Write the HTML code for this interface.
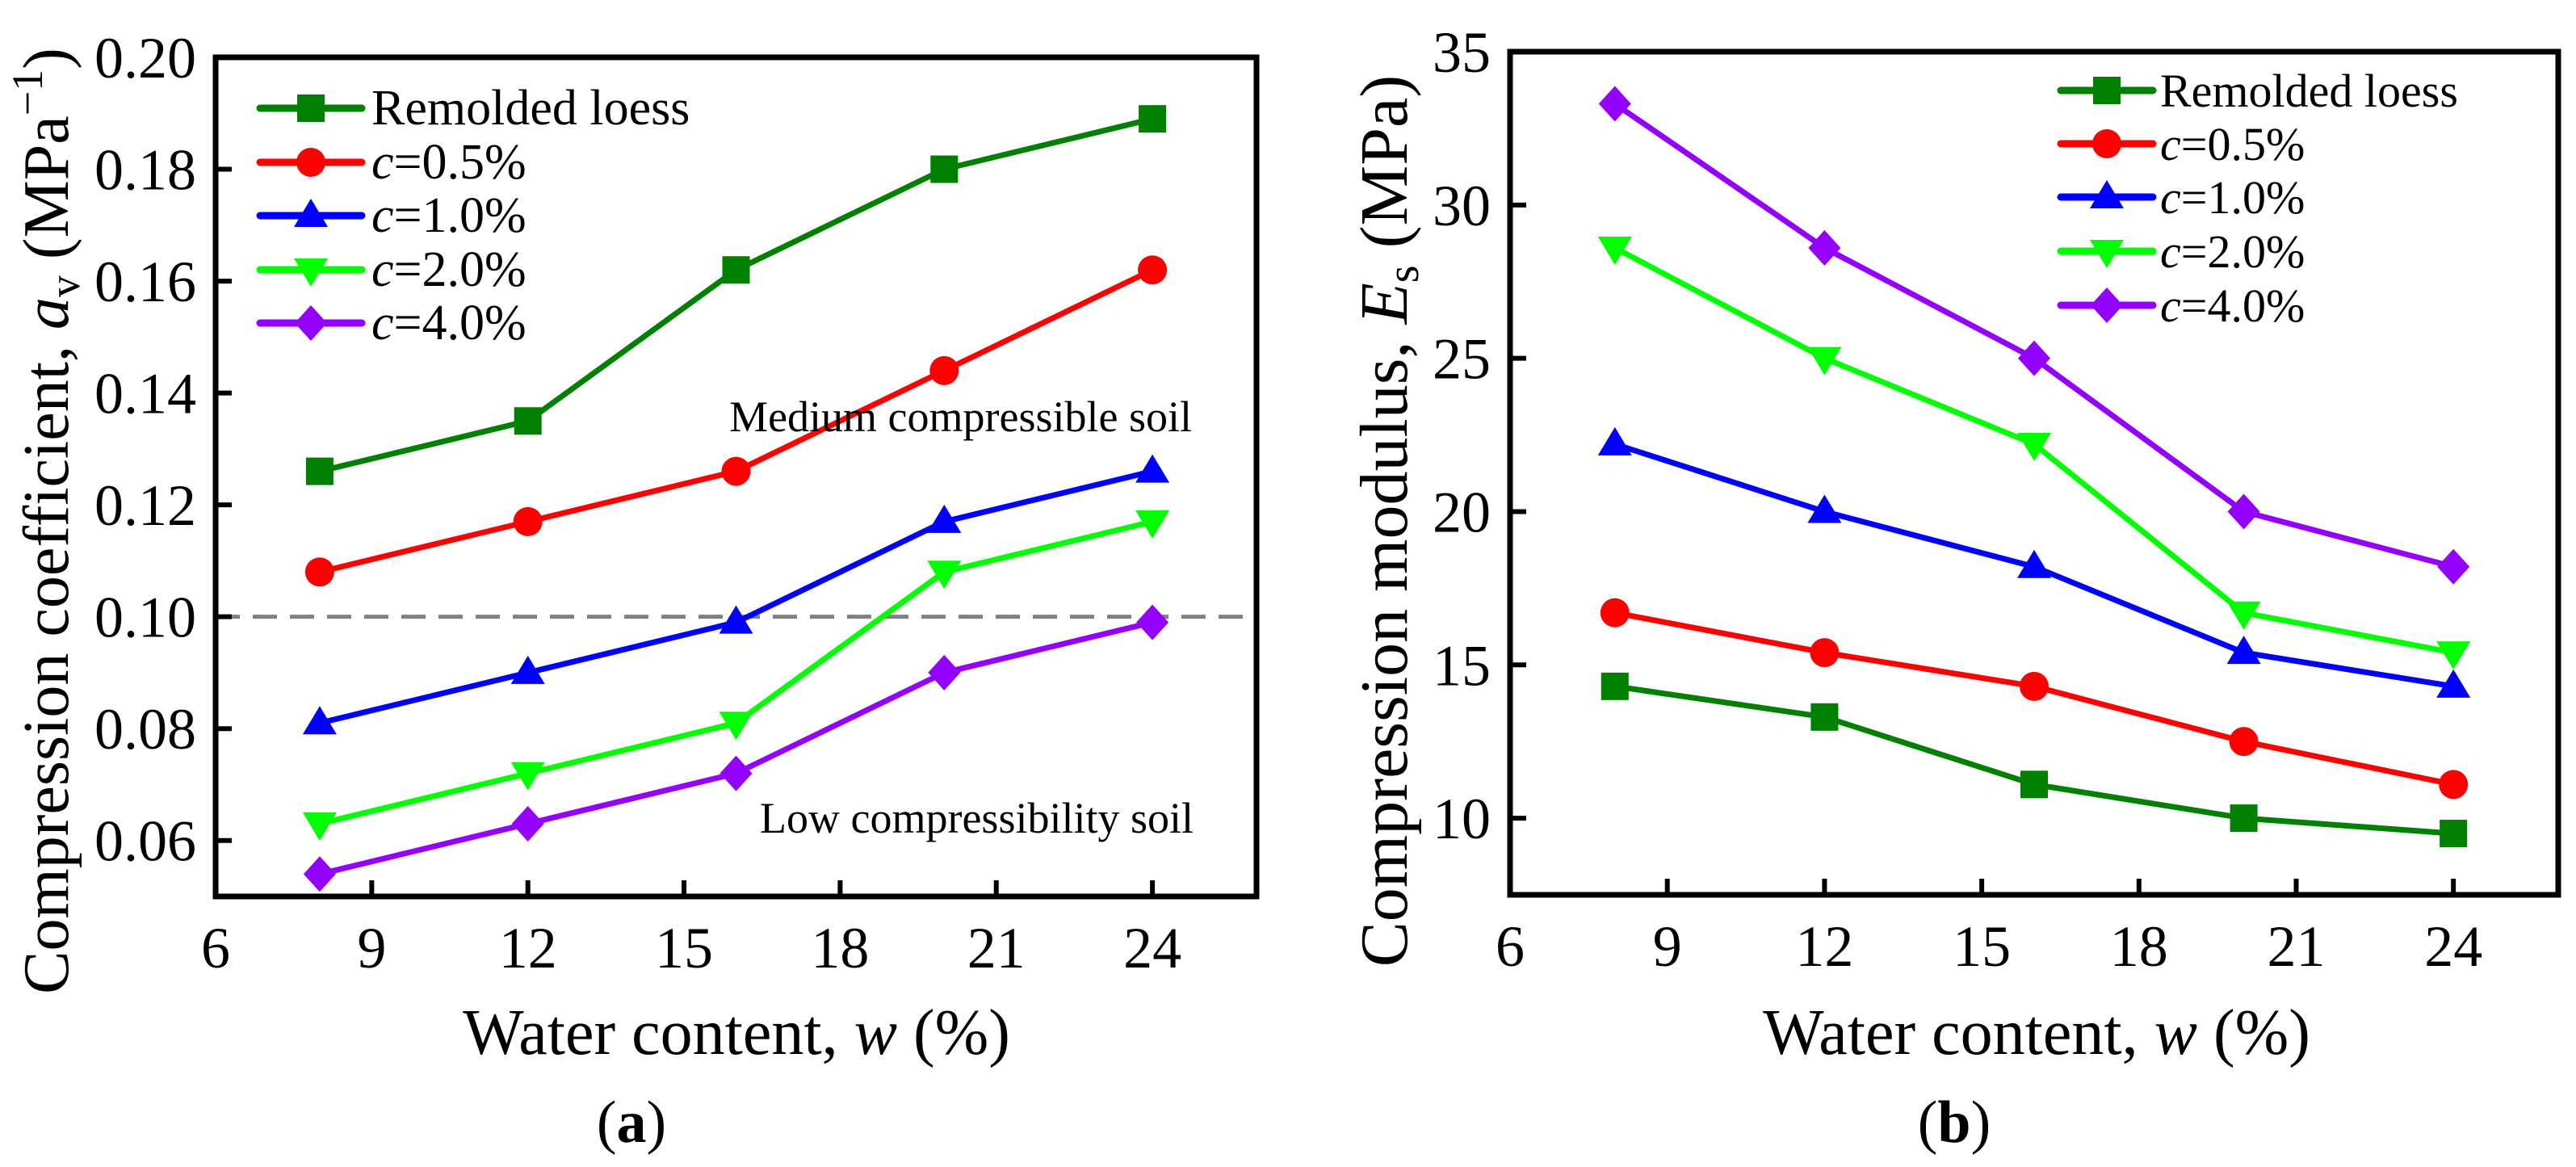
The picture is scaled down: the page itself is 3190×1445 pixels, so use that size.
<!DOCTYPE html>
<html><head><meta charset="utf-8">
<style>
html,body{margin:0;padding:0;background:#fff;}
svg{display:block;font-family:"Liberation Serif","DejaVu Serif",serif;}
text{font-family:"Liberation Serif","DejaVu Serif",serif;fill:#000;}
</style></head>
<body>
<svg id="fig" width="3190" height="1445" viewBox="0 0 3190 1445" xmlns="http://www.w3.org/2000/svg" font-family="Liberation Serif, serif"></svg>
<script>
const xCats = [8, 12, 16, 20, 24];
const xTicks = [6, 9, 12, 15, 18, 21, 24];
const seriesNames = ["Remolded loess", "c=0.5%", "c=1.0%", "c=2.0%", "c=4.0%"];
const avRemolded = [0.126, 0.135, 0.162, 0.180, 0.189];
const av05 = [0.108, 0.117, 0.126, 0.144, 0.162];
const av10 = [0.081, 0.090, 0.099, 0.117, 0.126];
const av20 = [0.063, 0.072, 0.081, 0.108, 0.117];
const av40 = [0.054, 0.063, 0.072, 0.090, 0.099];
const avTicks = [0.06, 0.08, 0.10, 0.12, 0.14, 0.16, 0.18, 0.20];
const avThreshold = 0.10;
const esRemolded = [14.3, 13.3, 11.1, 10.0, 9.5];
const es05 = [16.7, 15.4, 14.3, 12.5, 11.1];
const es10 = [22.2, 20.0, 18.2, 15.4, 14.3];
const es20 = [28.6, 25.0, 22.2, 16.7, 15.4];
const es40 = [33.3, 28.6, 25.0, 20.0, 18.2];
const esTicks = [10, 15, 20, 25, 30, 35];

const NS = "http://www.w3.org/2000/svg";
const FF = '"Liberation Serif", serif';
const svg = document.getElementById('fig');
const colors = ["#008000", "#ff0000", "#0000ff", "#00ff00", "#9400ff"];
const shapes = ["square", "circle", "tri", "tridown", "diamond"];
function el(tag, attrs, parent) {
  const e = document.createElementNS(NS, tag);
  for (const k in attrs) e.setAttribute(k, attrs[k]);
  if (tag === 'text') e.style.fontFamily = FF;
  (parent || svg).appendChild(e);
  return e;
}
function marker(g, shape, x, y, c) {
  let m;
  if (shape === "square") m = el('rect', {x: x-17, y: y-17, width: 34, height: 34, fill: c}, g);
  else if (shape === "circle") m = el('circle', {cx: x, cy: y, r: 18, fill: c}, g);
  else if (shape === "tri") m = el('polygon', {points: `${x},${y-21} ${x-21},${y+14} ${x+21},${y+14}`, fill: c}, g);
  else if (shape === "tridown") m = el('polygon', {points: `${x},${y+21} ${x-21},${y-14} ${x+21},${y-14}`, fill: c}, g);
  else m = el('polygon', {points: `${x},${y-22} ${x+20},${y} ${x},${y+22} ${x-20},${y}`, fill: c}, g);
  
  
}
function legendLabel(g, name, x, y, fs) {
  const t = el('text', {x: x, y: y, 'font-size': fs}, g);
  if (name.startsWith("c=")) {
    const i = el('tspan', {'font-style': 'italic'}, t); i.textContent = "c";
    const r = el('tspan', {}, t); r.textContent = name.slice(1);
  } else t.textContent = name;
}

function panel(opt) {
  const g = el('g', {});
  
  
  const {L, R, T, B, xmin, xmax, ymin, ymax} = opt;
  const sx = v => L + (v - xmin) / (xmax - xmin) * (R - L);
  const sy = v => B - (v - ymin) / (ymax - ymin) * (B - T);
  if (opt.threshold !== undefined) {
    const d = el('line', {x1: L, x2: R, y1: sy(opt.threshold), y2: sy(opt.threshold), stroke: '#808080', 'stroke-width': 5, 'stroke-dasharray': '30 16'}, g);
    
    
  }
  opt.series.forEach((vals, si) => {
    const sg = el('g', {}, g);
    
    
    const pts = vals.map((v, i) => sx(xCats[i]) + ',' + sy(v)).join(' ');
    el('polyline', {points: pts, fill: 'none', stroke: colors[si], 'stroke-width': 7, 'stroke-linejoin': 'round'}, sg);
    vals.forEach((v, i) => marker(sg, shapes[si], sx(xCats[i]), sy(v), colors[si]));
  });
  const fr = el('rect', {x: L, y: T, width: R - L, height: B - T, fill: 'none', stroke: '#000', 'stroke-width': 7}, g);
  
  
  xTicks.forEach(v => {
    const x = sx(v);
    el('line', {x1: x, x2: x, y1: B, y2: B - 20, stroke: '#000', 'stroke-width': 6}, g);
    const t = el('text', {x: x, y: B + 88, 'font-size': 72, 'text-anchor': 'middle'}, g);
    t.textContent = v;
    
    
  });
  opt.yTicks.forEach(v => {
    const y = sy(v);
    el('line', {x1: L, x2: L + 20, y1: y, y2: y, stroke: '#000', 'stroke-width': 6}, g);
    const t = el('text', {x: L - 24, y: y + 25, 'font-size': 72, 'text-anchor': 'end'}, g);
    t.textContent = opt.fmt(v);
    
    
  });
  const lg = el('g', {}, g);
  
  
  opt.legendRows.forEach((y, si) => {
    el('line', {x1: opt.lx1, x2: opt.lx2, y1: y, y2: y, stroke: colors[si], 'stroke-width': 9, 'stroke-linecap': 'round'}, lg);
    marker(lg, shapes[si], (opt.lx1 + opt.lx2) / 2, y, colors[si]);
    legendLabel(lg, seriesNames[si], opt.ltx, y + 20, opt.lfs);
  });
  const xt = el('text', {x: opt.xtc, y: 1305, 'font-size': 80, 'text-anchor': 'middle'}, g);
  
  
  xt.innerHTML = 'Water content, <tspan font-style="italic">w</tspan> (%)';
  const pl = el('text', {x: opt.xtc - 130 + opt.pdx, y: 1414, 'font-size': 74, 'text-anchor': 'middle'}, g);
  
  
  pl.innerHTML = '(<tspan font-weight="bold">' + opt.letter + '</tspan>)';
  const yt = el('text', {x: 0, y: 0, 'font-size': opt.ytfs, 'text-anchor': 'middle', transform: `translate(${opt.ytx},${opt.ytc}) rotate(-90)`}, g);
  
  
  yt.innerHTML = opt.ytitle;
  return {g, sx, sy};
}

const p1 = panel({name: 'panel-a', L: 267, R: 1556, T: 71, B: 1110, xmin: 6, xmax: 26, ymin: 0.05, ymax: 0.20,
  series: [avRemolded, av05, av10, av20, av40], yTicks: avTicks, fmt: v => v.toFixed(2), threshold: avThreshold,
  legendRows: [134, 201, 267, 334, 400], lx1: 322, lx2: 448, ltx: 460, lfs: 62,
  xtc: 912, pdx: 0, letter: 'a', ytx: 84, ytc: 645, ytfs: 80,
  ytitle: 'Compression coefficient, <tspan font-style="italic">a</tspan><tspan font-size="54" dy="14">v</tspan><tspan dy="-14"> (MPa</tspan><tspan font-size="54" dy="-32">−1</tspan><tspan dy="32">)</tspan>'});
const a1 = el('text', {x: 1476, y: 534, 'font-size': 54, 'text-anchor': 'end'}, p1.g);
a1.textContent = 'Medium compressible soil';


const a2 = el('text', {x: 1478, y: 1031, 'font-size': 54, 'text-anchor': 'end'}, p1.g);
a2.textContent = 'Low compressibility soil';



panel({name: 'panel-b', L: 1870, R: 3168, T: 64, B: 1108, xmin: 6, xmax: 26, ymin: 7.5, ymax: 35,
  series: [esRemolded, es05, es10, es20, es40], yTicks: esTicks, fmt: v => String(v),
  legendRows: [112, 178, 244, 311, 378], lx1: 2552, lx2: 2666, ltx: 2675, lfs: 58,
  xtc: 2522, pdx: 28, letter: 'b', ytx: 1742, ytc: 645, ytfs: 84,
  ytitle: 'Compression modulus, <tspan font-style="italic">E</tspan><tspan font-size="56" dy="14">s</tspan><tspan dy="-14"> (MPa)</tspan>'});
</script>
</body></html>
